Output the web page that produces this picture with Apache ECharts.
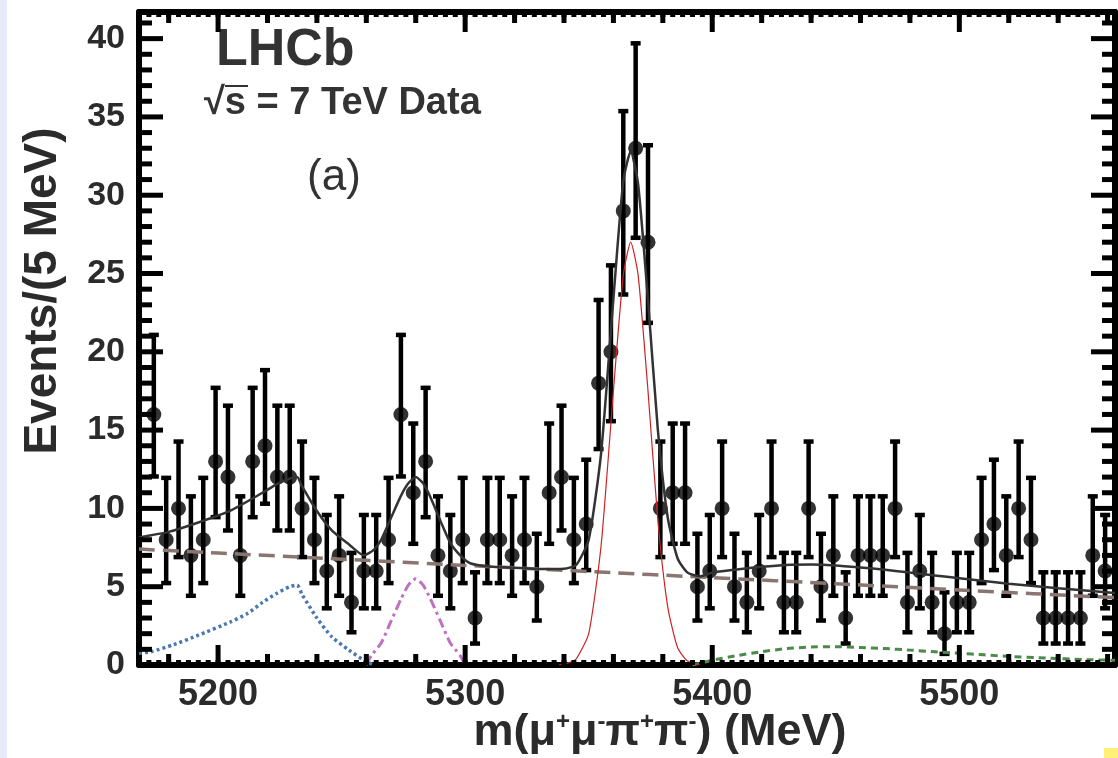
<!DOCTYPE html>
<html>
<head>
<meta charset="utf-8">
<title>LHCb m(mu mu pi pi)</title>
<script src="https://cdn.jsdelivr.net/npm/echarts@6/dist/echarts.min.js"></script>
<style>
  html, body { margin: 0; padding: 0; background: #fff; }
  #chart { width: 1118px; height: 758px; }
</style>
</head>
<body>
<div id="chart"></div>
<script>
/** data start */
// bin centres of the 5 MeV bins (MeV)
var massBins = [
  5174, 5179, 5184, 5189, 5194, 5199, 5204, 5209, 5214, 5219,
  5224, 5229, 5234, 5239, 5244, 5249, 5254, 5259, 5264, 5269,
  5274, 5279, 5284, 5289, 5294, 5299, 5304, 5309, 5314, 5319,
  5324, 5329, 5334, 5339, 5344, 5349, 5354, 5359, 5364, 5369,
  5374, 5379, 5384, 5389, 5394, 5399, 5404, 5409, 5414, 5419,
  5424, 5429, 5434, 5439, 5444, 5449, 5454, 5459, 5464, 5469,
  5474, 5479, 5484, 5489, 5494, 5499, 5504, 5509, 5514, 5519,
  5524, 5529, 5534, 5539, 5544, 5549, 5554, 5559
];
// events per bin
var counts = [
  16, 8, 10, 7, 8, 13, 12, 7, 13, 14,
  12, 12, 10, 8, 6, 7, 4, 6, 6, 8,
  16, 11, 13, 7, 6, 8, 3, 8, 8, 7,
  8, 5, 11, 12, 8, 9, 18, 20, 29, 33,
  27, 10, 11, 11, 5, 6, 10, 5, 4, 6,
  10, 4, 4, 10, 5, 7, 3, 7, 7, 7,
  10, 4, 6, 4, 2, 4, 4, 8, 9, 7,
  10, 8, 3, 3, 3, 3, 7, 6
];
// 68% Poisson (Garwood) interval per count
var poissonLow = { 2: 0.71, 3: 1.37, 4: 2.09, 5: 2.84, 6: 3.62, 7: 4.42, 8: 5.23, 9: 6.06, 10: 6.89,
  11: 7.74, 12: 8.59, 13: 9.44, 14: 10.30, 16: 12.04, 18: 13.79, 20: 15.57, 27: 21.85, 29: 23.66, 33: 27.28 };
var poissonHigh = { 2: 4.64, 3: 5.92, 4: 7.16, 5: 8.38, 6: 9.58, 7: 10.77, 8: 11.95, 9: 13.11, 10: 14.27,
  11: 15.42, 12: 16.56, 13: 17.70, 14: 18.83, 16: 21.08, 18: 23.31, 20: 25.52, 27: 33.19, 29: 35.37, 33: 39.70 };

// total fit (solid)
var fitMass  = [5168, 5180, 5192, 5205, 5218, 5224, 5229, 5232, 5234, 5240, 5246, 5253, 5259, 5263, 5266, 5270,
  5274, 5277, 5280, 5283, 5286, 5290, 5294, 5298, 5302, 5310, 5320, 5330, 5340, 5345, 5350, 5355, 5360, 5364,
  5367, 5370, 5374, 5378, 5382, 5386, 5390, 5395, 5400, 5410, 5420, 5430, 5440, 5450, 5460, 5470, 5480, 5490,
  5500, 5520, 5540, 5563];
var fitTotal = [8.15, 8.5, 9.1, 9.86, 11.0, 11.56, 11.9, 12.0, 11.4, 9.83, 8.6, 7.7, 7.0, 7.35, 8.0, 9.4,
  10.8, 11.6, 12.0, 11.6, 10.7, 9.2, 7.8, 7.0, 6.5, 6.29, 6.21, 6.13, 6.15, 6.4, 8.0, 13.5, 23.4, 30.9,
  32.8, 30.7, 23.3, 15.0, 9.4, 6.8, 5.9, 5.66, 5.9, 6.1, 6.27, 6.39, 6.41, 6.36, 6.23, 6.08, 5.9, 5.72,
  5.54, 5.19, 4.9, 4.6];
// combinatorial background (long dashes)
var bkgMass  = [5168, 5200, 5250, 5300, 5350, 5400, 5450, 5500, 5563];
var bkgValue = [7.4, 7.15, 6.76, 6.36, 5.97, 5.58, 5.19, 4.79, 4.3];
// partially reconstructed background (dotted)
var partMass  = [5168, 5173, 5182, 5192, 5205, 5212, 5218, 5224, 5229, 5232, 5234, 5240, 5246, 5253, 5259, 5263];
var partValue = [0.75, 0.85, 1.3, 1.9, 2.75, 3.3, 4.0, 4.6, 5.0, 5.1, 4.5, 3.0, 1.8, 0.95, 0.3, 0];
// B0 signal (dash-dot)
var bdMass  = [5260, 5262, 5266, 5270, 5274, 5277, 5280, 5283, 5286, 5290, 5294, 5298, 5300];
var bdValue = [0, 0.6, 1.4, 2.8, 4.2, 5.1, 5.5, 5.1, 4.2, 2.8, 1.4, 0.6, 0];
// Bs signal (thin)
var bsMass  = [5338, 5342, 5345, 5350, 5355, 5360, 5364, 5367, 5370, 5374, 5378, 5382, 5386, 5390, 5395];
var bsValue = [0, 0.15, 0.4, 2.0, 7.6, 17.5, 24.9, 27, 24.9, 17.5, 9.2, 3.7, 1.1, 0.25, 0];
// high-mass component (short dashes)
var hiMass  = [5392, 5400, 5410, 5420, 5430, 5440, 5450, 5460, 5470, 5480, 5490, 5500, 5510, 5520, 5535, 5550, 5563];
var hiValue = [0, 0.3, 0.6, 0.85, 1.05, 1.15, 1.17, 1.12, 1.05, 0.95, 0.85, 0.75, 0.65, 0.55, 0.45, 0.35, 0.3];

// axis ticks
var xMajorTicks = [5200, 5300, 5400, 5500];
var xMidTicks = [5180, 5220, 5240, 5260, 5280, 5320, 5340, 5360, 5380, 5420, 5440, 5460, 5480, 5520, 5540, 5560];
var yMajorTicks = [0, 5, 10, 15, 20, 25, 30, 35, 40];
/** data end */

var X_MIN = 5168, X_MAX = 5563, Y_MIN = 0, Y_MAX = 41.7;
var FONT = '"Liberation Sans", Arial, Helvetica, sans-serif';
var INK = '#000';
var TEXT = '#2b2b2b';

var xSmallTicks = [];
for (var t = 5172; t <= X_MAX; t += 4) { xSmallTicks.push(t); }
var yMinorTicks = [];
for (var v = 1; v <= 41; v++) { if (v % 5 !== 0) { yMinorTicks.push(v); } }

function pairs(xs, ys) {
    return xs.map(function (x, i) { return [x, ys[i]]; });
}

function plain(val) { return String(val); }

function xFrame(position) {
    return {
        type: 'value', position: position, min: X_MIN, max: X_MAX,
        axisLine: { show: true, onZero: false, lineStyle: { color: INK, width: 6 } },
        axisTick: { show: false },
        axisLabel: {
            show: position === 'bottom', customValues: xMajorTicks, margin: 12, formatter: plain,
            color: TEXT, fontFamily: FONT, fontWeight: 'bold', fontSize: 36
        },
        splitLine: { show: false }
    };
}

function yFrame(position) {
    return {
        type: 'value', position: position, min: Y_MIN, max: Y_MAX, interval: 5,
        axisLine: { show: true, onZero: false, lineStyle: { color: INK, width: 6 } },
        axisTick: { show: false },
        axisLabel: {
            show: position === 'left', margin: 14, showMaxLabel: false, formatter: plain,
            color: TEXT, fontFamily: FONT, fontWeight: 'bold', fontSize: 34
        },
        splitLine: { show: false }
    };
}

/**
 * frame tick marks, placed with the axis scales and pointing into the frame
 */
function tickSeries(name, values, vertical, len) {
    var data = values.map(function (val) { return vertical ? [val, Y_MIN] : [X_MIN, val]; });
    return {
        name: name, type: 'custom', data: data, clip: false, z: 10,
        renderItem: function (params, api) {
            var style = { stroke: INK, lineWidth: 5 };
            var a, b, sa, sb;
            if (vertical) {
                a = api.coord([api.value(0), Y_MIN]);
                b = api.coord([api.value(0), Y_MAX]);
                sa = { x1: a[0], y1: a[1], x2: a[0], y2: a[1] - len };
                sb = { x1: b[0], y1: b[1], x2: b[0], y2: b[1] + len };
            } else {
                a = api.coord([X_MIN, api.value(1)]);
                b = api.coord([X_MAX, api.value(1)]);
                sa = { x1: a[0], y1: a[1], x2: a[0] + len, y2: a[1] };
                sb = { x1: b[0], y1: b[1], x2: b[0] - len, y2: b[1] };
            }
            return {
                type: 'group',
                children: [
                    { type: 'line', shape: sa, style: style },
                    { type: 'line', shape: sb, style: style }
                ]
            };
        }
    };
}

function renderErrorBar(params, api) {
    var top = api.coord([api.value(0), api.value(2)]);
    var bot = api.coord([api.value(0), api.value(1)]);
    var cap = 5;
    var style = { stroke: '#000', lineWidth: 4.5 };
    return {
        type: 'group',
        children: [
            { type: 'line', shape: { x1: top[0], y1: top[1], x2: bot[0], y2: bot[1] }, style: style },
            { type: 'line', shape: { x1: top[0] - cap, y1: top[1], x2: top[0] + cap, y2: top[1] }, style: style },
            { type: 'line', shape: { x1: bot[0] - cap, y1: bot[1], x2: bot[0] + cap, y2: bot[1] }, style: style }
        ]
    };
}

function curve(name, xs, ys, color, width, type, z) {
    return {
        name: name, type: 'line', data: pairs(xs, ys), showSymbol: false, symbol: 'none',
        smooth: 0.2, z: z, silent: true,
        lineStyle: { color: color, width: width, type: type }
    };
}

var errorData = massBins.map(function (m, i) {
    return [m, poissonLow[counts[i]], poissonHigh[counts[i]]];
});

var option = {
    backgroundColor: '#fff',
    animation: false,
    grid: { left: 139, right: 3, top: 12, bottom: 93 },
    xAxis: [xFrame('bottom'), xFrame('top')],
    yAxis: [yFrame('left'), yFrame('right')],
    series: [
        tickSeries('xMajor', xMajorTicks, true, 20),
        tickSeries('xMid', xMidTicks, true, 11),
        tickSeries('xSmall', xSmallTicks, true, 5),
        tickSeries('yMajor', yMajorTicks, false, 24),
        tickSeries('yMinor', yMinorTicks, false, 13),
        { name: 'errors', type: 'custom', renderItem: renderErrorBar, data: errorData, z: 2, silent: true },
        {
            name: 'Data', type: 'scatter', data: pairs(massBins, counts), symbol: 'circle', symbolSize: 15,
            itemStyle: { color: '#000' }, z: 3, silent: true
        },
        curve('bkg', bkgMass, bkgValue, '#8a7670', 3.5, [16, 8], 4),
        curve('part', partMass, partValue, '#4a78b0', 3.5, [3, 3], 4),
        curve('B0', bdMass, bdValue, '#c070c0', 3, [10, 4, 3, 4], 4),
        curve('Bs', bsMass, bsValue, '#cc2222', 1.2, 'solid', 5),
        curve('high', hiMass, hiValue, '#4a8a4a', 3, [7, 5], 4),
        curve('total', fitMass, fitTotal, '#333', 2.5, 'solid', 6)
    ],
    graphic: [
        { type: 'rect', left: 0, top: 0, shape: { width: 7, height: 758 }, style: { fill: '#e6eafb' }, z: -10 },
        { type: 'rect', left: 1104, top: 748, shape: { width: 14, height: 10 }, style: { fill: '#fff176' }, z: -10 },
        {
            type: 'text', x: 216, y: 51,
            style: { text: 'LHCb', font: 'bold 52px ' + FONT, fill: '#333', textAlign: 'left', textVerticalAlign: 'middle' }
        },
        {
            type: 'text', x: 204, y: 104,
            style: { text: '\u221As = 7 TeV Data', font: 'bold 38px ' + FONT, fill: '#333', textAlign: 'left', textVerticalAlign: 'middle' }
        },
        { type: 'line', shape: { x1: 225, y1: 86, x2: 248, y2: 86 }, style: { stroke: '#333', lineWidth: 2 } },
        {
            type: 'text', x: 334, y: 178,
            style: { text: '(a)', font: '44px ' + FONT, fill: '#333', textAlign: 'center', textVerticalAlign: 'middle' }
        },
        {
            type: 'text', x: 43, y: 291, rotation: Math.PI / 2,
            style: { text: 'Events/(5 MeV)', font: 'bold 46px ' + FONT, fill: TEXT, textAlign: 'center', textVerticalAlign: 'middle' }
        },
        {
            type: 'text', x: 660, y: 733,
            style: {
                text: 'm(\u03BC{sup|+}\u03BC{sup|-}\u03C0{sup|+}\u03C0{sup|-}) (MeV)',
                font: 'bold 45px ' + FONT, fill: TEXT, textAlign: 'center', textVerticalAlign: 'middle',
                rich: { sup: { fontFamily: FONT, fontWeight: 'bold', fontSize: 24, verticalAlign: 'top' } }
            }
        }
    ]
};

var myChart = echarts.init(document.getElementById('chart'), null, { renderer: 'canvas' });
myChart.setOption(option);
</script>
</body>
</html>
